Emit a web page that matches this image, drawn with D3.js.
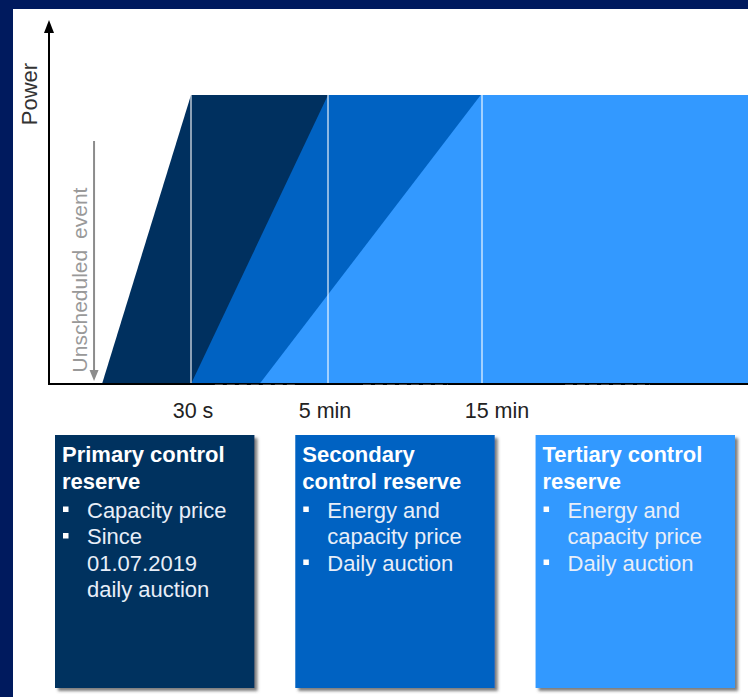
<!DOCTYPE html>
<html>
<head>
<meta charset="utf-8">
<script src="https://cdn.jsdelivr.net/npm/d3@7"></script>
<style>
  html, body { margin: 0; padding: 0; background: #001a5e; }
  svg { display: block; }
  text { font-family: "Liberation Sans", Arial, sans-serif; }
</style>
</head>
<body>
<svg id="chart" width="748" height="697"></svg>
<script>
// ---------- data ----------
const timeStops   = [-20, 0, 30, 300, 900, 1800];   // broken (non-linear) time axis, seconds
const tickTimes   = [30, 300, 900];
const tickLabels  = ["30 s", "5 min", "15 min"];
const eventTime   = -3;                             // unscheduled event
const reserveNames = ["Primary", "Secondary", "Tertiary"];
const rampStart   = [0, 30, 165];                   // seconds when activation starts
const rampFull    = [30, 300, 895];                 // seconds when fully activated
const powerLevel  = [1, 1, 1];
const axisDashes  = [[77, 241], [436, 767], [1181, 1468]];
const boxTitles   = [["Primary control", "reserve"], ["Secondary", "control reserve"], ["Tertiary control", "reserve"]];
const boxBullets  = [
  [["Capacity price"], ["Since", "01.07.2019", "daily auction"]],
  [["Energy and", "capacity price"], ["Daily auction"]],
  [["Energy and", "capacity price"], ["Daily auction"]]
];
const colors = ["#00305f", "#0062c2", "#3399ff"];

// ---------- layout ----------
const svg = d3.select("#chart");
const W = 748, H = 697;

svg.append("rect").attr("width", W).attr("height", H).attr("fill", "#001a5e");
svg.append("rect").attr("x", 13).attr("y", 9).attr("width", W - 13).attr("height", H - 9).attr("fill", "#ffffff");

const defs = svg.append("defs");
const f = defs.append("filter").attr("id", "shadow").attr("x", "-10%").attr("y", "-10%").attr("width", "130%").attr("height", "130%");
f.append("feDropShadow").attr("dx", 3).attr("dy", 3).attr("stdDeviation", 1.6)
  .attr("flood-color", "#444").attr("flood-opacity", 0.7);

const x = d3.scaleLinear().domain(timeStops).range([49, 102, 191, 328, 482, 748]);
const y = d3.scaleLinear().domain([0, 1]).range([384, 95]);
const tEnd = timeStops[timeStops.length - 1];

// reserve areas
const area = svg.append("g");
reserveNames.forEach((name, i) => {
  const pts = [
    [x(rampStart[i]), y(0)],
    [x(rampFull[i]), y(powerLevel[i])],
    [x(tEnd), y(powerLevel[i])],
    [x(tEnd), y(0)]
  ];
  area.append("path")
    .attr("d", d3.line()(pts) + "Z")
    .attr("fill", colors[i]);
});

// vertical tick lines
svg.append("g").selectAll("line").data(tickTimes).join("line")
  .attr("x1", d => x(d)).attr("x2", d => x(d))
  .attr("y1", y(1)).attr("y2", y(0))
  .attr("stroke", "#ffffff").attr("stroke-opacity", 0.55).attr("stroke-width", 2);

// axes
svg.append("line").attr("x1", 48).attr("x2", W).attr("y1", y(0)).attr("y2", y(0))
  .attr("stroke", "#000").attr("stroke-width", 2);
svg.append("g").selectAll("line").data(axisDashes).join("line")
  .attr("x1", d => x(d[0])).attr("x2", d => x(d[1]))
  .attr("y1", y(0) + 1.5).attr("y2", y(0) + 1.5)
  .attr("stroke", "#fff").attr("stroke-width", 1.5).attr("stroke-dasharray", "8,4");

svg.append("line").attr("x1", 49).attr("x2", 49).attr("y1", y(0) + 1).attr("y2", 30)
  .attr("stroke", "#000").attr("stroke-width", 2);
svg.append("path").attr("d", "M49,20 L44,33 L54,33 Z").attr("fill", "#000");

svg.append("text")
  .attr("transform", `translate(37,94) rotate(-90)`)
  .attr("text-anchor", "middle")
  .attr("font-size", 22).attr("fill", "#333")
  .text("Power");

// unscheduled event arrow
const ex = x(eventTime);
svg.append("line").attr("x1", ex).attr("x2", ex).attr("y1", 141).attr("y2", 372)
  .attr("stroke", "#8c8c8c").attr("stroke-width", 2);
svg.append("path").attr("d", `M${ex},381 L${ex - 4.5},370 L${ex + 4.5},370 Z`).attr("fill", "#8c8c8c");
svg.append("text")
  .attr("transform", `translate(${ex - 7},280) rotate(-90)`)
  .attr("text-anchor", "middle")
  .attr("font-size", 21).attr("fill", "#999").attr("word-spacing", 5)
  .text("Unscheduled event");

// tick labels
svg.append("g").selectAll("text").data(tickTimes).join("text")
  .attr("x", (d, i) => x(d) + (i === 2 ? 15 : (i === 1 ? -3 : 2)))
  .attr("y", 418)
  .attr("text-anchor", "middle")
  .attr("font-size", 21.5).attr("fill", "#222")
  .text((d, i) => tickLabels[i]);

// boxes
const band = d3.scaleBand().domain(reserveNames).range([55, 735]).paddingInner(0.17);
const boxTop = 435, boxBottom = 688, lh = 26.5;
reserveNames.forEach((name, i) => {
  const bx = band(name);
  const g = svg.append("g");
  g.append("rect").attr("x", bx).attr("y", boxTop).attr("width", band.bandwidth()).attr("height", boxBottom - boxTop)
    .attr("fill", colors[i]).attr("filter", "url(#shadow)");
  let base = 462;
  boxTitles[i].forEach(t => {
    g.append("text").attr("x", bx + 7).attr("y", base).attr("font-size", 22).attr("font-weight", "bold")
      .attr("fill", "#fff").text(t);
    base += lh;
  });
  base += 2.5;
  boxBullets[i].forEach(item => {
    g.append("rect").attr("x", bx + 8).attr("y", base - 11).attr("width", 5.5).attr("height", 5.5).attr("fill", "#fff");
    item.forEach(t => {
      g.append("text").attr("x", bx + 32).attr("y", base).attr("font-size", 22)
        .attr("fill", "#e8eef8").text(t);
      base += lh;
    });
  });
});
</script>
</body>
</html>
